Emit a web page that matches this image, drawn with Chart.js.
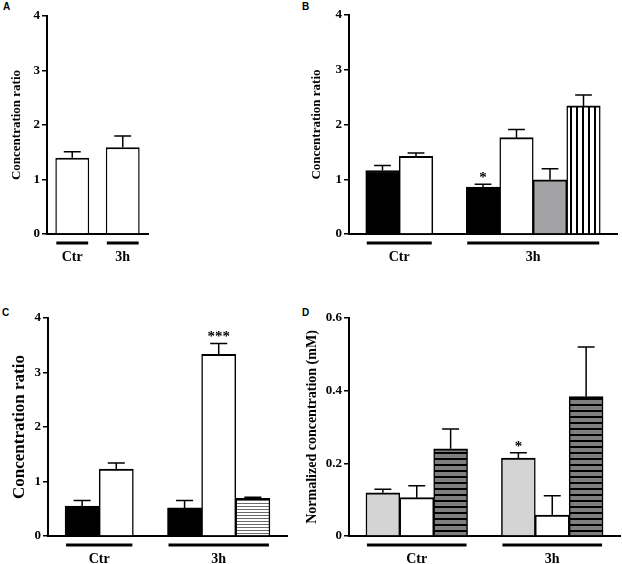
<!DOCTYPE html>
<html>
<head>
<meta charset="utf-8">
<script src="https://cdn.jsdelivr.net/npm/chart.js@4.4.0/dist/chart.umd.min.js"></script>
<style>
  html, body { margin: 0; padding: 0; background: #fff; }
  body { width: 622px; height: 564px; position: relative; overflow: hidden; }
  canvas { position: absolute; }
  .tag { position: absolute; font: bold 10px "Liberation Sans", Arial, sans-serif; line-height: 1; color: #000; }
</style>
</head>
<body>
<div class="tag" style="left:3px;top:2px">A</div>
<div class="tag" style="left:302px;top:2px">B</div>
<div class="tag" style="left:2px;top:308px">C</div>
<div class="tag" style="left:302px;top:308px">D</div>
<canvas id="chartA"></canvas>
<canvas id="chartB"></canvas>
<canvas id="chartC"></canvas>
<canvas id="chartD"></canvas>
<script>
// ---- data ----
const groupNames = ['Ctr', '3h'];

// A
const groupsA = ['Ctr', '3h'];
const valuesA = [1.40, 1.59];
const errorsA = [0.11, 0.21];
const starsA = ['', ''];
const fillsA = ['white', 'white'];

// B
const groupsB = ['Ctr', 'Ctr', '3h', '3h', '3h', '3h'];
const valuesB = [1.16, 1.42, 0.855, 1.76, 0.99, 2.34];
const errorsB = [0.09, 0.06, 0.055, 0.15, 0.20, 0.20];
const starsB = ['', '', '*', '', '', ''];
const fillsB = ['black', 'white', 'black', 'white', 'gray', 'vlines'];

// C
const groupsC = ['Ctr', 'Ctr', '3h', '3h', '3h'];
const valuesC = [0.55, 1.23, 0.515, 3.335, 0.69];
const errorsC = [0.10, 0.11, 0.135, 0.195, 0.02];
const starsC = ['', '', '', '***', ''];
const fillsC = ['black', 'white', 'black', 'white', 'hlines'];

// D
const groupsD = ['Ctr', 'Ctr', 'Ctr', '3h', '3h', '3h'];
const valuesD = [0.119, 0.1055, 0.240, 0.2147, 0.0578, 0.3835];
const errorsD = [0.010, 0.033, 0.0545, 0.0143, 0.0532, 0.1365];
const starsD = ['', '', '', '*', '', ''];
const fillsD = ['lightgray', 'white', 'bands', 'lightgray', 'white', 'bands'];

const serif = '"Liberation Serif", "Times New Roman", serif';

// ---- fills ----
function makePattern(w, h, bg, paint) {
  const c = document.createElement('canvas');
  c.width = w; c.height = h;
  const g = c.getContext('2d');
  g.fillStyle = bg;
  g.fillRect(0, 0, w, h);
  paint(g);
  return g.createPattern(c, 'repeat');
}

const fillStyles = {
  black: '#000000',
  white: '#ffffff',
  gray: '#a3a3a5',
  lightgray: '#d4d4d4',
  vlines: makePattern(6, 6, '#ffffff', g => { g.fillStyle = '#000'; g.fillRect(0, 0, 2, 6); }),
  hlines: makePattern(3, 3, '#ffffff', g => { g.fillStyle = '#6a6a6a'; g.fillRect(0, 0, 3, 1); }),
  bands: makePattern(6, 6, '#7f7f7f', g => { g.fillStyle = '#000'; g.fillRect(0, 0, 6, 2); })
};

// ---- one panel ----
function drawPanel(id, p) {
  const canvas = document.getElementById(id);
  canvas.width = p.box[2];
  canvas.height = p.box[3];
  canvas.style.left = p.box[0] + 'px';
  canvas.style.top = p.box[1] + 'px';

  // build slots (with blank spacers between groups when asked)
  const labels = [], data = [], errs = [], marks = [], colors = [], grp = [];
  function spacer() {
    labels.push('gap' + labels.length); data.push(null); errs.push(null);
    marks.push(''); colors.push('#ffffff'); grp.push(null);
  }
  p.groups.forEach((g, i) => {
    if (p.spacers && (i === 0 || g !== p.groups[i - 1])) spacer();
    labels.push(g + ' ' + i);
    data.push(p.values[i]);
    errs.push(p.errors[i]);
    marks.push(p.stars[i]);
    colors.push(fillStyles[p.fills[i]]);
    grp.push(g);
  });
  if (p.spacers) spacer();

  const area = p.area;
  const extras = {
    id: 'extras',
    afterDatasetsDraw(chart) {
      const ctx = chart.ctx;
      const y = chart.scales.y;
      const meta = chart.getDatasetMeta(0);
      ctx.save();
      ctx.strokeStyle = '#000';
      ctx.fillStyle = '#000';
      ctx.lineWidth = 1.5;
      meta.data.forEach((bar, i) => {
        if (data[i] == null) return;
        const top = y.getPixelForValue(data[i]);
        const cap = y.getPixelForValue(data[i] + errs[i]);
        const half = bar.width / 4;
        ctx.beginPath();
        ctx.moveTo(bar.x, top);
        ctx.lineTo(bar.x, cap);
        ctx.moveTo(bar.x - half, cap);
        ctx.lineTo(bar.x + half, cap);
        ctx.stroke();
        if (marks[i]) {
          ctx.font = 'bold 15px ' + serif;
          ctx.textAlign = 'center';
          ctx.textBaseline = 'middle';
          ctx.fillText(marks[i], bar.x, cap - 6);
        }
      });
      // group underlines and names
      const bottom = chart.chartArea.bottom;
      groupNames.forEach(g => {
        const els = meta.data.filter((b, i) => grp[i] === g);
        if (!els.length) return;
        const left = Math.min(...els.map(b => b.x - b.width / 2)) + 1;
        const right = Math.max(...els.map(b => b.x + b.width / 2)) - 1;
        ctx.lineWidth = 3;
        ctx.beginPath();
        ctx.moveTo(left, bottom + 9);
        ctx.lineTo(right, bottom + 9);
        ctx.stroke();
        ctx.font = 'bold 14px ' + serif;
        ctx.textAlign = 'center';
        ctx.textBaseline = 'middle';
        ctx.fillText(g, (left + right) / 2, bottom + 23);
      });
      ctx.restore();
    }
  };

  new Chart(canvas, {
    type: 'bar',
    data: {
      labels: labels,
      datasets: [{
        data: data,
        backgroundColor: colors,
        borderColor: '#000',
        borderWidth: { top: 2, left: 1.5, right: 1.5, bottom: 0 },
        borderSkipped: 'start',
        categoryPercentage: 1,
        barPercentage: p.spacers ? 1 : 0.67
      }]
    },
    options: {
      responsive: false,
      animation: false,
      devicePixelRatio: 1,
      layout: {
        padding: {
          left: 0,
          top: area[1] - p.box[1],
          right: p.box[0] + p.box[2] - area[2],
          bottom: p.box[1] + p.box[3] - area[3]
        }
      },
      plugins: { legend: { display: false }, tooltip: { enabled: false } },
      scales: {
        x: {
          offset: !p.spacers,
          z: 1,
          grid: { display: false },
          ticks: { display: false },
          border: { display: true, width: 2, color: '#000' },
          afterFit: s => { s.height = 0; }
        },
        y: {
          min: 0,
          max: p.yMax,
          ticks: {
            stepSize: p.yStep,
            color: '#000',
            padding: 2,
            font: { family: serif, weight: 'bold', size: 13 },
            callback: v => (v === 0 ? '0' : (p.yStep < 1 ? v.toFixed(1) : String(v)))
          },
          grid: { drawOnChartArea: false, tickLength: 5, color: '#000', lineWidth: 1.5 },
          border: { display: true, width: 2, color: '#000' },
          title: {
            display: true,
            text: p.yTitle,
            color: '#000',
            font: { family: serif, weight: 'bold', size: p.titleSize, lineHeight: 1.2 },
            padding: { top: p.titleX - p.titleSize * 0.6, bottom: 0 }
          },
          afterFit: s => { s.width = area[0] - p.box[0]; }
        }
      }
    },
    plugins: [extras]
  });
}

drawPanel('chartA', {
  box: [0, 0, 160, 270], area: [47, 16, 148, 234], spacers: false,
  groups: groupsA, values: valuesA, errors: errorsA, stars: starsA, fills: fillsA,
  yMax: 4, yStep: 1, yTitle: 'Concentration ratio', titleSize: 13, titleX: 17
});
drawPanel('chartB', {
  box: [300, 0, 322, 270], area: [349, 15, 617, 234], spacers: true,
  groups: groupsB, values: valuesB, errors: errorsB, stars: starsB, fills: fillsB,
  yMax: 4, yStep: 1, yTitle: 'Concentration ratio', titleSize: 13, titleX: 17
});
drawPanel('chartC', {
  box: [0, 290, 300, 274], area: [48, 318, 287, 536], spacers: true,
  groups: groupsC, values: valuesC, errors: errorsC, stars: starsC, fills: fillsC,
  yMax: 4, yStep: 1, yTitle: 'Concentration ratio', titleSize: 17, titleX: 20
});
drawPanel('chartD', {
  box: [300, 290, 322, 274], area: [349, 318, 620, 536], spacers: true,
  groups: groupsD, values: valuesD, errors: errorsD, stars: starsD, fills: fillsD,
  yMax: 0.6, yStep: 0.2, yTitle: 'Normalized concentration (mM)', titleSize: 14, titleX: 12
});
</script>
</body>
</html>
